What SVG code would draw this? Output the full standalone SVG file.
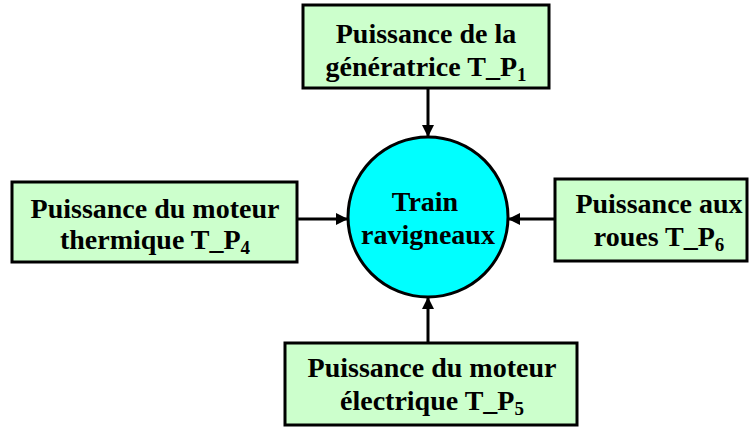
<svg xmlns="http://www.w3.org/2000/svg" width="750" height="428" viewBox="0 0 750 428">
<defs>
<style>
.box{fill:#ccffcc;stroke:#000;stroke-width:3}
.circ{fill:#00ffff;stroke:#000;stroke-width:3}
.t{font-family:"Liberation Serif","Times New Roman",serif;font-weight:bold;font-size:28px;fill:#000;text-anchor:middle}
.sub{font-size:19px}
.c{stroke:#000;stroke-width:3;fill:none;marker-end:url(#ah)}
</style>
<marker id="ah" viewBox="0 0 10 10" refX="10" refY="5" markerWidth="4" markerHeight="4" markerUnits="strokeWidth" orient="auto">
<path d="M0,0 L10,5 L0,10 z" fill="#000"/>
</marker>
</defs>
<rect width="750" height="428" fill="#fff"/>
<g id="connectors">
<line class="c" x1="428" y1="88" x2="428" y2="137"/>
<line class="c" x1="297" y1="219" x2="348" y2="219"/>
<line class="c" x1="555" y1="219" x2="508" y2="219"/>
<line class="c" x1="428" y1="343" x2="428" y2="297"/>
</g>
<g id="gen">
<rect class="box" x="303" y="5" width="246" height="83"/>
<text class="t" x="426" y="43">Puissance de la</text>
<text class="t" x="426" y="76">génératrice T_P<tspan class="sub" dy="5">1</tspan></text>
</g>
<g id="thermique">
<rect class="box" x="12" y="182" width="285" height="80"/>
<text class="t" x="155" y="218">Puissance du moteur</text>
<text class="t" x="155" y="249">thermique T_P<tspan class="sub" dy="5">4</tspan></text>
</g>
<g id="train">
<circle class="circ" cx="428" cy="217" r="80"/>
<text class="t" x="425" y="211">Train</text>
<text class="t" x="428" y="244">ravigneaux</text>
</g>
<g id="roues">
<rect class="box" x="555" y="179" width="192" height="82"/>
<text class="t" x="659" y="213">Puissance aux</text>
<text class="t" x="659" y="246">roues T_P<tspan class="sub" dy="5">6</tspan></text>
</g>
<g id="electrique">
<rect class="box" x="285" y="343" width="292" height="82"/>
<text class="t" x="432" y="377">Puissance du moteur</text>
<text class="t" x="432" y="410">électrique T_P<tspan class="sub" dy="5">5</tspan></text>
</g>
</svg>
